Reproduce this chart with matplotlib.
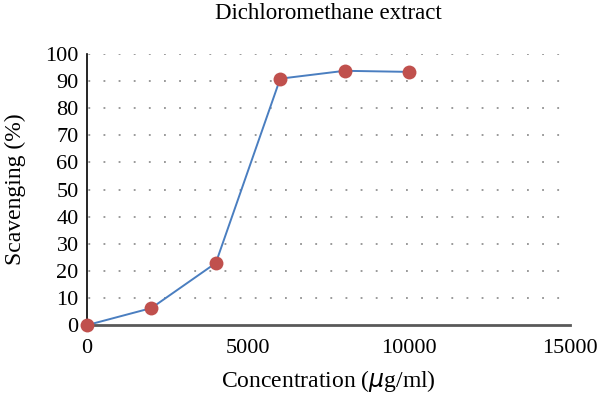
import matplotlib.pyplot as plt

concentration = [0, 2000, 4000, 6000, 8000, 10000]
scavenging = [0, 6.3, 22.9, 90.9, 93.8, 93.4]
x_ticks = [0, 5000, 10000, 15000]
y_ticks = list(range(0, 101, 10))

plt.rcParams['font.family'] = ['Liberation Serif', 'DejaVu Serif']

fig = plt.figure(figsize=(6, 3.97), dpi=100)
ax = fig.add_axes([0.145, 0.181, 0.805, 0.683])

# dotted horizontal gridlines
for y in y_ticks[1:]:
    ax.axhline(y, color='#7f7f7f', linestyle=(9, (1.2, 8.7)), linewidth=1.1, zorder=0)

ax.plot(concentration, scavenging, color='#4A7EC0', linewidth=1.4, zorder=2)
ax.plot(concentration, scavenging, 'o', color='#C0504D', markersize=10,
        markeredgewidth=0, zorder=3, clip_on=False)

ax.set_xlim(0, 15000)
ax.set_ylim(0, 100)
ax.set_xticks(x_ticks)
ax.set_yticks(y_ticks)
ax.tick_params(length=0, labelsize=16)
ax.tick_params(axis='x', pad=10)
ax.tick_params(axis='y', pad=6)

for s in ['top', 'right']:
    ax.spines[s].set_visible(False)
ax.spines['left'].set_color('black')
ax.spines['left'].set_linewidth(1.2)
ax.spines['bottom'].set_color('#595959')
ax.spines['bottom'].set_linewidth(2.0)

ax.set_title('Dichloromethane extract', fontsize=16.5, pad=25)
ax.set_xlabel('Concentration ($\\mu$g/ml)', fontsize=17, labelpad=7)
ax.set_ylabel('Scavenging (%)', fontsize=17, labelpad=14)

fig.savefig('out.png', dpi=100)
